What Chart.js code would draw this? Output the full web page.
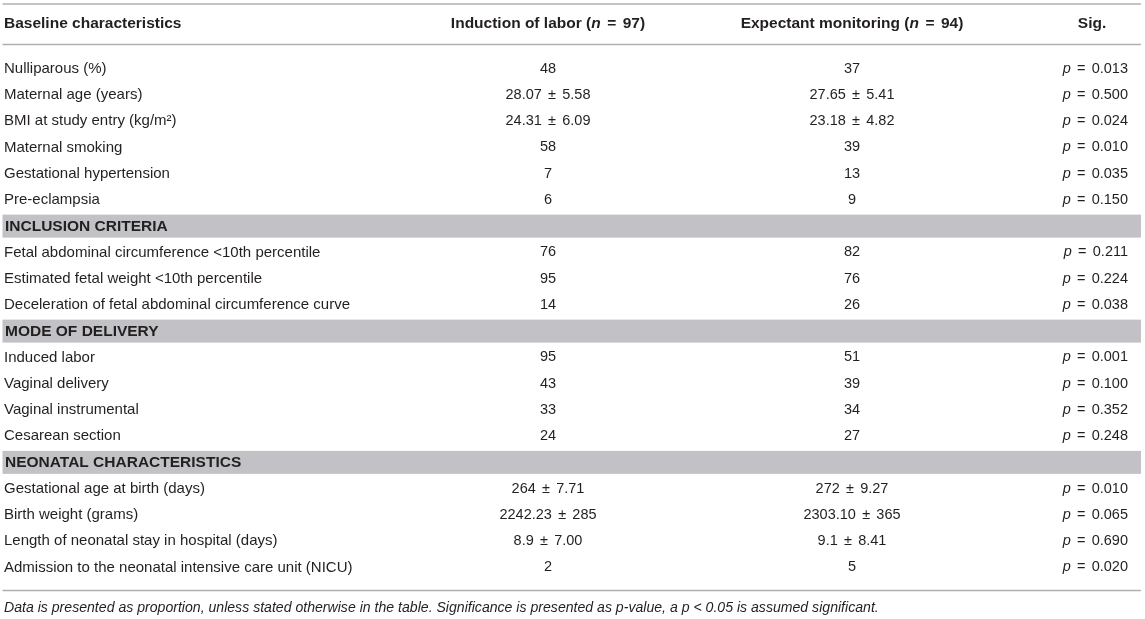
<!DOCTYPE html>
<html>
<head>
<meta charset="utf-8">
<script src="https://cdn.jsdelivr.net/npm/chart.js@4.4.1/dist/chart.umd.min.js"></script>
<style>
html,body{margin:0;padding:0;background:#fff;}
#wrap{width:1145px;height:619px;}
</style>
</head>
<body>
<div id="wrap"><canvas id="c" width="1145" height="619"></canvas></div>
<script>
// ---- data ----
const columnHeaders = ["Baseline characteristics", "Induction of labor (n = 97)", "Expectant monitoring (n = 94)", "Sig."];
const rowLabels = [
  "Nulliparous (%)",
  "Maternal age (years)",
  "BMI at study entry (kg/m\u00B2)",
  "Maternal smoking",
  "Gestational hypertension",
  "Pre-eclampsia",
  "INCLUSION CRITERIA",
  "Fetal abdominal circumference <10th percentile",
  "Estimated fetal weight <10th percentile",
  "Deceleration of fetal abdominal circumference curve",
  "MODE OF DELIVERY",
  "Induced labor",
  "Vaginal delivery",
  "Vaginal instrumental",
  "Cesarean section",
  "NEONATAL CHARACTERISTICS",
  "Gestational age at birth (days)",
  "Birth weight (grams)",
  "Length of neonatal stay in hospital (days)",
  "Admission to the neonatal intensive care unit (NICU)"
];
const inductionValues = ["48", "28.07 \u00B1 5.58", "24.31 \u00B1 6.09", "58", "7", "6", null,
  "76", "95", "14", null,
  "95", "43", "33", "24", null,
  "264 \u00B1 7.71", "2242.23 \u00B1 285", "8.9 \u00B1 7.00", "2"];
const expectantValues = ["37", "27.65 \u00B1 5.41", "23.18 \u00B1 4.82", "39", "13", "9", null,
  "82", "76", "26", null,
  "51", "39", "34", "27", null,
  "272 \u00B1 9.27", "2303.10 \u00B1 365", "9.1 \u00B1 8.41", "5"];
const pValues = ["0.013", "0.500", "0.024", "0.010", "0.035", "0.150", null,
  "0.211", "0.224", "0.038", null,
  "0.001", "0.100", "0.352", "0.248", null,
  "0.010", "0.065", "0.690", "0.020"];
const footnote = "Data is presented as proportion, unless stated otherwise in the table. Significance is presented as p-value, a p < 0.05 is assumed significant.";

// ---- style / layout ----
const FONT = '"Liberation Sans", Arial, Helvetica, sans-serif';
const TEXT = '#231f20';
const RULE = '#b0b0b0';
const BAND = '#c2c2c6';
const LABEL_SIZE = 15;
const NUM_SIZE = 14.5;
const HEAD_SIZE = 15.5;
const colX = { label: 4, c1: 548, c2: 852, sig: 1128, sigHead: 1092 };
const OP_GAP = 2.2;      // extra space around ± and = (math spacing)

function font(size, bold, italic) {
  return (italic ? 'italic ' : '') + (bold ? 'bold ' : '') + size + 'px ' + FONT;
}
function drawRuns(ctx, runs, x, y, align) {
  let total = 0;
  runs.forEach(r => {
    if (r.gap !== undefined) { r.w = r.gap; }
    else { ctx.font = r.f; r.w = ctx.measureText(r.t).width; }
    total += r.w;
  });
  let sx = align === 'center' ? x - total / 2 : align === 'right' ? x - total : x;
  ctx.textAlign = 'left';
  runs.forEach(r => {
    if (r.gap === undefined) { ctx.font = r.f; ctx.fillText(r.t, sx, y); }
    sx += r.w;
  });
}
// split a text on a math operator, widening the spacing around it
function opRuns(text, op, f, gap) {
  const parts = text.split(' ' + op + ' ');
  if (parts.length < 2) return [{ t: text, f }];
  return [{ t: parts[0] + ' ', f }, { gap }, { t: op, f }, { gap }, { t: ' ' + parts[1], f }];
}
function headerRuns(text) {
  const fb = font(HEAD_SIZE, true, false), fi = font(HEAD_SIZE, true, true);
  const m = text.match(/^(.*\()n = (.*)$/);
  if (!m) return [{ t: text, f: fb }];
  return [{ t: m[1], f: fb }, { t: 'n', f: fi }, { t: ' ', f: fb }, { gap: OP_GAP }, { t: '=', f: fb }, { gap: OP_GAP }, { t: ' ' + m[2], f: fb }];
}

const tablePlugin = {
  id: 'tablePlugin',
  afterDraw(chart) {
    const ctx = chart.ctx;
    const y = chart.scales.y;
    const area = chart.chartArea;
    const left = 2.5, right = 1141;
    ctx.save();
    ctx.textBaseline = 'middle';
    ctx.fillStyle = TEXT;

    // rules
    ctx.strokeStyle = RULE;
    ctx.lineWidth = 1.6;
    [4, area.top - 10.5, area.bottom + 10.5].forEach(ly => {
      ctx.beginPath(); ctx.moveTo(left, ly); ctx.lineTo(right, ly); ctx.stroke();
    });

    // header
    const hy = 24;
    drawRuns(ctx, headerRuns(columnHeaders[0]), colX.label, hy, 'left');
    drawRuns(ctx, headerRuns(columnHeaders[1]), colX.c1, hy, 'center');
    drawRuns(ctx, headerRuns(columnHeaders[2]), colX.c2, hy, 'center');
    drawRuns(ctx, headerRuns(columnHeaders[3]), colX.sigHead, hy, 'center');

    const fl = font(LABEL_SIZE, false, false);
    const fn = font(NUM_SIZE, false, false);
    const fni = font(NUM_SIZE, false, true);
    // rows
    rowLabels.forEach((lab, i) => {
      const py = y.getPixelForValue(i) + 0.5;
      const isSection = inductionValues[i] === null && expectantValues[i] === null && pValues[i] === null;
      if (isSection) {
        ctx.fillStyle = BAND;
        ctx.fillRect(left, py - 11.5, right - left, 23);
        ctx.fillStyle = TEXT;
        drawRuns(ctx, [{ t: lab, f: font(HEAD_SIZE, true, false) }], colX.label + 1, py + 0.5, 'left');
        return;
      }
      ctx.fillStyle = TEXT;
      drawRuns(ctx, [{ t: lab, f: fl }], colX.label, py, 'left');
      drawRuns(ctx, opRuns(inductionValues[i], '\u00B1', fn, OP_GAP), colX.c1, py, 'center');
      drawRuns(ctx, opRuns(expectantValues[i], '\u00B1', fn, OP_GAP), colX.c2, py, 'center');
      drawRuns(ctx, [{ t: 'p', f: fni }, { t: ' ', f: fn }, { gap: OP_GAP }, { t: '=', f: fn }, { gap: OP_GAP }, { t: ' ' + pValues[i], f: fn }], colX.sig, py, 'right');
    });

    // footnote
    drawRuns(ctx, [{ t: footnote, f: font(14.1, false, true) }], 4, area.bottom + 28, 'left');
    ctx.restore();
  }
};

new Chart(document.getElementById('c'), {
  type: 'bar',
  data: {
    labels: rowLabels,
    datasets: [{ data: rowLabels.map(() => null), backgroundColor: 'rgba(0,0,0,0)' }]
  },
  options: {
    responsive: false,
    animation: false,
    indexAxis: 'y',
    layout: { padding: { top: 55, bottom: 39, left: 0, right: 0 } },
    plugins: { legend: { display: false }, tooltip: { enabled: false }, title: { display: false } },
    scales: {
      y: { type: 'category', display: false, offset: true },
      x: { type: 'linear', display: false, min: 0, max: 1 }
    }
  },
  plugins: [tablePlugin]
});
</script>
</body>
</html>
